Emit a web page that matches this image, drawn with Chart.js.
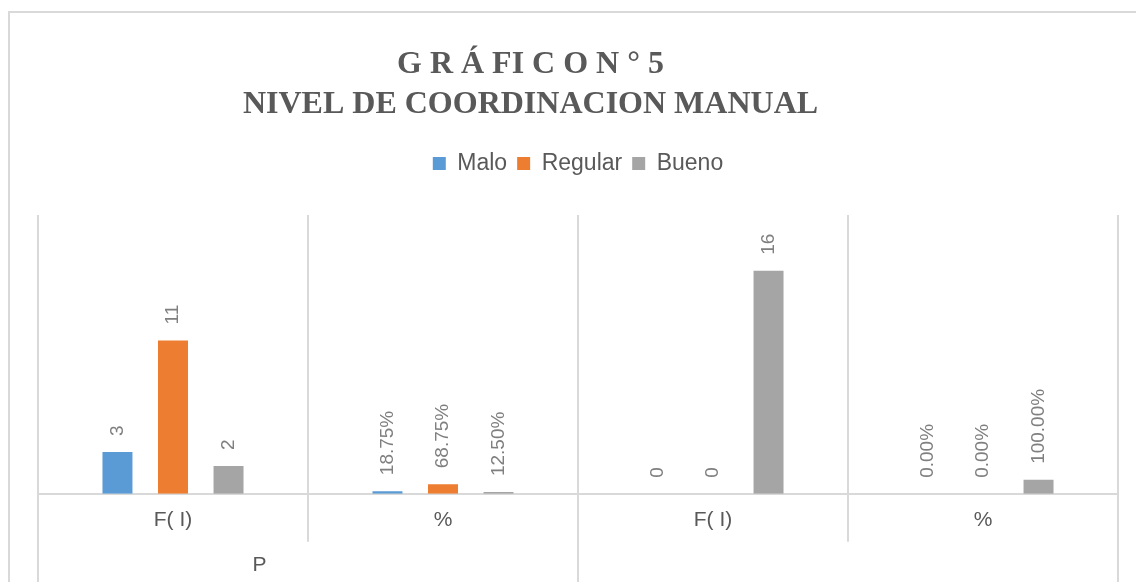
<!DOCTYPE html>
<html>
<head>
<meta charset="utf-8">
<script src="https://cdn.jsdelivr.net/npm/chart.js@4/dist/chart.umd.min.js"></script>
<style>
  body { margin: 0; background: #fff; }
  #wrap { width: 1136px; height: 582px; }
</style>
</head>
<body>
<div id="wrap"><canvas id="myChart"></canvas></div>
<script>
const categories = ['F( I)', '%', 'F( I)', '%']
const groupLabels = ['P', '']
const malo = [3, 0.1875, 0, 0]
const regular = [11, 0.6875, 0, 0]
const bueno = [2, 0.125, 16, 1]
const titleLines = ['G R Á FI C O N ° 5', 'NIVEL DE COORDINACION MANUAL']

const lineColor = '#d9d9d9'

function fmt(v, i) {
    if (categories[i] === '%') {
        return (v * 100).toFixed(2) + '%'
    }
    return String(v)
}

// outer frame of the chart + title (title sits a bit left of centre)
const framePlugin = {
    id: 'frame',
    beforeDraw(chart) {
        const ctx = chart.ctx
        ctx.save()
        ctx.fillStyle = '#fff'
        ctx.fillRect(0, 0, chart.width, chart.height)
        ctx.strokeStyle = lineColor
        ctx.lineWidth = 2
        ctx.beginPath()
        ctx.moveTo(9, chart.height)
        ctx.lineTo(9, 12)
        ctx.lineTo(chart.width, 12)
        ctx.stroke()

        ctx.font = 'bold 32px "Liberation Serif", "Times New Roman", serif'
        ctx.fillStyle = '#595959'
        ctx.textAlign = 'center'
        ctx.textBaseline = 'middle'
        const cx = chart.width * 0.467
        titleLines.forEach((t, k) => {
            ctx.fillText(t, cx, 65 + k * 40)
        })
        ctx.restore()
    }
}

// leave some room between legend and bars
const legendGap = {
    id: 'legendGap',
    beforeInit(chart) {
        const fit = chart.legend.fit
        chart.legend.fit = function () {
            fit.bind(chart.legend)()
            this.height += 30
        }
    }
}

// rotated value labels above the bars
const labelPlugin = {
    id: 'valueLabels',
    afterDatasetsDraw(chart) {
        const ctx = chart.ctx
        ctx.save()
        ctx.font = '19px "Liberation Sans", Arial, sans-serif'
        ctx.fillStyle = '#7f7f7f'
        ctx.textAlign = 'left'
        ctx.textBaseline = 'middle'
        chart.data.datasets.forEach((ds, d) => {
            const meta = chart.getDatasetMeta(d)
            meta.data.forEach((bar, i) => {
                ctx.save()
                ctx.translate(bar.x, bar.y - 16)
                ctx.rotate(-Math.PI / 2)
                ctx.fillText(fmt(ds.data[i], i), 0, 0)
                ctx.restore()
            })
        })
        ctx.restore()
    }
}

// separators under the axis and the group label
const groupPlugin = {
    id: 'groups',
    afterDraw(chart) {
        const ctx = chart.ctx
        const xs = chart.scales.x
        const area = chart.chartArea
        const n = categories.length
        const step = xs.getPixelForValue(1) - xs.getPixelForValue(0)
        ctx.save()
        ctx.strokeStyle = lineColor
        ctx.lineWidth = 2
        for (let i = 0; i <= n; i++) {
            const x = xs.getPixelForValue(0) + (i - 0.5) * step
            const end = i % 2 === 0 ? chart.height : area.bottom + 48
            ctx.beginPath()
            ctx.moveTo(x, area.bottom)
            ctx.lineTo(x, end)
            ctx.stroke()
        }
        ctx.font = '21px "Liberation Sans", Arial, sans-serif'
        ctx.fillStyle = '#595959'
        ctx.textAlign = 'center'
        ctx.textBaseline = 'middle'
        groupLabels.forEach((g, k) => {
            const x = xs.getPixelForValue(k * 2) + 0.32 * step
            ctx.fillText(g, x, area.bottom + 71)
        })
        ctx.restore()
    }
}

const ctx = document.getElementById('myChart')

new Chart(ctx, {
    type: 'bar',
    data: {
        labels: categories,
        datasets: [
            { label: 'Malo', data: malo, backgroundColor: '#5b9bd5' },
            { label: 'Regular', data: regular, backgroundColor: '#ed7d31' },
            { label: 'Bueno', data: bueno, backgroundColor: '#a5a5a5' }
        ]
    },
    options: {
        responsive: true,
        maintainAspectRatio: false,
        animation: false,
        categoryPercentage: 0.617,
        barPercentage: 0.54,
        layout: {
            padding: { left: 38, right: 18, top: 142, bottom: 35 }
        },
        plugins: {
            title: { display: false },
            legend: {
                display: true,
                position: 'top',
                labels: {
                    color: '#595959',
                    boxWidth: 13,
                    boxHeight: 13,
                    font: { family: '"Liberation Sans", Arial, sans-serif', size: 23 }
                }
            },
            tooltip: { enabled: false }
        },
        scales: {
            x: {
                grid: {
                    display: true,
                    color: lineColor,
                    lineWidth: 2,
                    offset: true,
                    drawTicks: false
                },
                border: { display: true, color: lineColor, width: 2 },
                ticks: {
                    color: '#595959',
                    padding: 14,
                    font: { family: '"Liberation Sans", Arial, sans-serif', size: 21 }
                }
            },
            y: {
                display: false,
                min: 0,
                max: 20
            }
        }
    },
    plugins: [legendGap, framePlugin, labelPlugin, groupPlugin]
})
</script>
</body>
</html>
